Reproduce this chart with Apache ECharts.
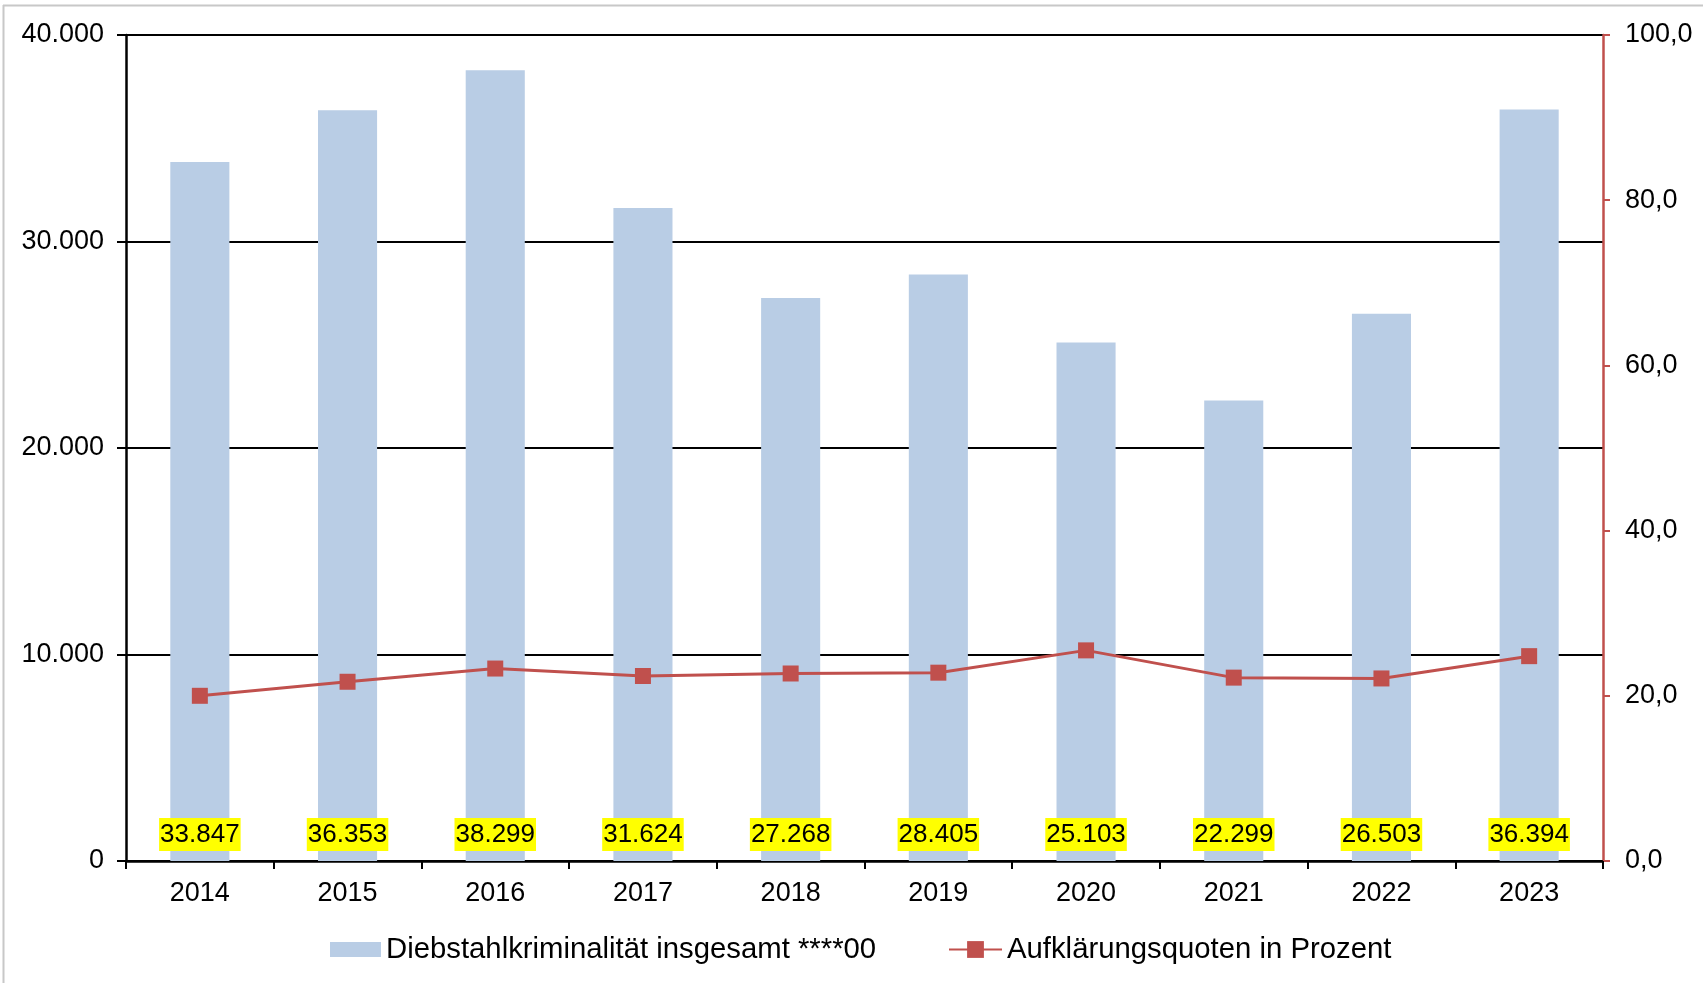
<!DOCTYPE html>
<html>
<head>
<meta charset="utf-8">
<script src="https://cdn.jsdelivr.net/npm/echarts@6/dist/echarts.min.js"></script>
<style>
html,body{margin:0;padding:0;background:#fff;}
#chart{width:1703px;height:983px;}
</style>
</head>
<body>
<div id="chart"></div>
<script>
const categories = ['2014','2015','2016','2017','2018','2019','2020','2021','2022','2023'];
const theftTotal = [33847, 36353, 38299, 31624, 27268, 28405, 25103, 22299, 26503, 36394];
const clearanceRate = [20.0, 21.7, 23.3, 22.4, 22.7, 22.8, 25.5, 22.2, 22.1, 24.8];
const seriesNames = ['Diebstahlkriminalität insgesamt ****00', 'Aufklärungsquoten in Prozent'];

const fmtThousands = v => String(Math.round(v)).replace(/\B(?=(\d{3})+(?!\d))/g, '.');
const fmtPercent = v => Number(v).toFixed(1).replace('.', ',');

const FONT = 'Liberation Sans, Arial, sans-serif';
const chart = echarts.init(document.getElementById('chart'), null, {renderer: 'canvas'});

const legendText = {fontFamily: FONT, fontSize: 29.3, color: '#000'};

chart.setOption({
  backgroundColor: '#ffffff',
  animation: false,
  textStyle: {fontFamily: FONT, color: '#000'},
  graphic: [
    {type: 'line', shape: {x1: 3.5, y1: 5, x2: 3.5, y2: 983}, style: {stroke: '#c8c8c8', lineWidth: 2}, silent: true},
    {type: 'line', shape: {x1: 3, y1: 5.5, x2: 1703, y2: 5.5}, style: {stroke: '#c8c8c8', lineWidth: 2}, silent: true}
  ],
  grid: {left: 126, right: 100, top: 35, bottom: 122, containLabel: false},
  legend: [
    {
      left: 325,
      top: 930,
      itemWidth: 51,
      itemHeight: 15,
      itemGap: 0,
      textStyle: legendText,
      data: [{name: seriesNames[0], icon: 'rect'}]
    },
    {
      left: 943,
      top: 930,
      itemWidth: 53,
      itemHeight: 21,
      itemGap: 0,
      textStyle: legendText,
      data: [{name: seriesNames[1]}]
    }
  ],
  xAxis: {
    type: 'category',
    data: categories,
    axisLine: {lineStyle: {color: '#000', width: 2.5}},
    axisTick: {show: true, length: 8, lineStyle: {color: '#000', width: 2}},
    axisLabel: {fontFamily: FONT, fontSize: 27, color: '#000', margin: 19}
  },
  yAxis: [
    {
      type: 'value',
      min: 0, max: 40000, interval: 10000,
      axisLine: {show: true, lineStyle: {color: '#000', width: 2.5}},
      axisTick: {show: true, length: 9, lineStyle: {color: '#000', width: 2}},
      splitLine: {show: true, lineStyle: {color: '#000', width: 2}},
      axisLabel: {fontFamily: FONT, fontSize: 27, color: '#000', margin: 22, formatter: fmtThousands}
    },
    {
      type: 'value',
      min: 0, max: 100, interval: 20,
      position: 'right',
      axisLine: {show: true, lineStyle: {color: '#C0504D', width: 2.5}},
      axisTick: {show: true, length: 7, lineStyle: {color: '#C0504D', width: 2}},
      splitLine: {show: false},
      axisLabel: {fontFamily: FONT, fontSize: 27, color: '#000', margin: 22, formatter: fmtPercent}
    }
  ],
  series: [
    {
      name: seriesNames[0],
      type: 'bar',
      yAxisIndex: 0,
      data: theftTotal,
      barWidth: '40%',
      itemStyle: {color: '#B9CDE5'},
      z: 2,
      label: {
        show: true,
        position: 'insideBottom',
        distance: 10,
        fontFamily: FONT,
        fontSize: 26,
        color: '#000',
        backgroundColor: '#FFFF00',
        padding: [4, 1, 3, 1],
        formatter: p => fmtThousands(p.value)
      }
    },
    {
      name: seriesNames[1],
      type: 'line',
      yAxisIndex: 1,
      data: clearanceRate,
      symbol: 'rect',
      symbolSize: 16,
      lineStyle: {color: '#C0504D', width: 3},
      itemStyle: {color: '#C0504D'},
      z: 5
    }
  ]
});
</script>
</body>
</html>
